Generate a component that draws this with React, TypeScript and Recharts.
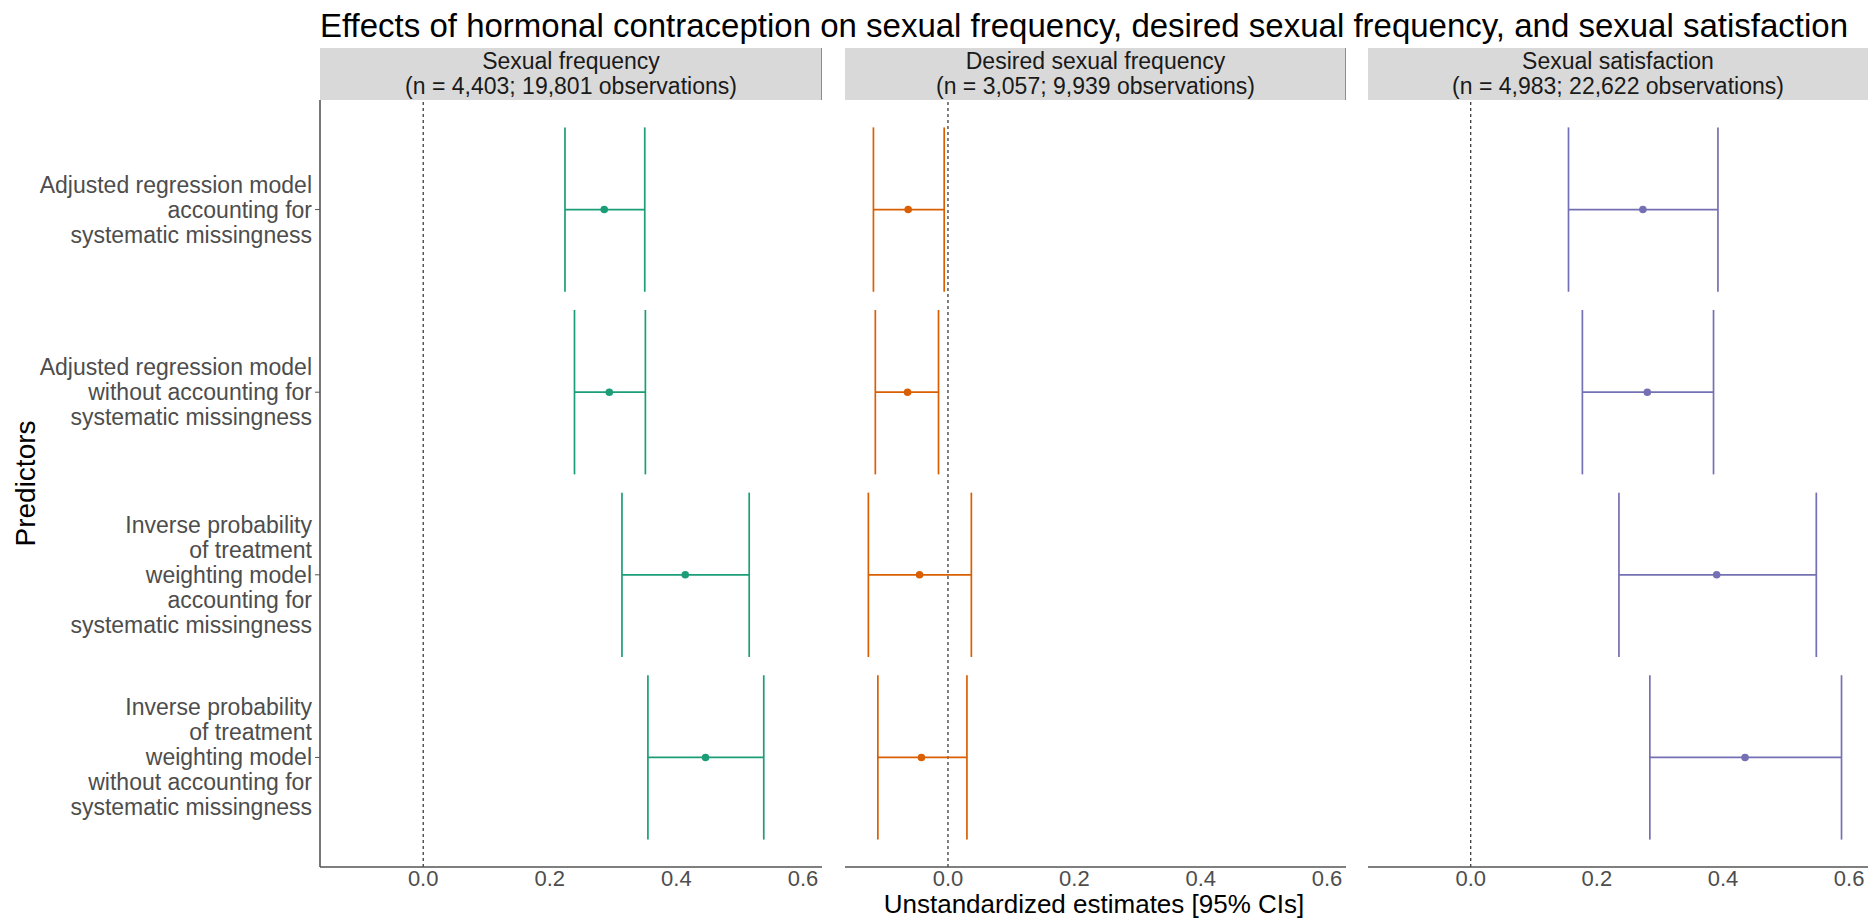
import React from 'react';
import { ScatterChart, Scatter, XAxis, YAxis, ErrorBar, ReferenceLine } from 'recharts';

const FONT = '"Liberation Sans", Arial, Helvetica, sans-serif';

const chartTitle =
  'Effects of hormonal contraception on sexual frequency, desired sexual frequency, and sexual satisfaction';
const xAxisTitle = 'Unstandardized estimates [95% CIs]';
const yAxisTitle = 'Predictors';

const predictorLabels: string[][] = [
  ['Adjusted regression model', 'accounting for', 'systematic missingness'],
  ['Adjusted regression model', 'without accounting for', 'systematic missingness'],
  ['Inverse probability', 'of treatment', 'weighting model', 'accounting for', 'systematic missingness'],
  ['Inverse probability', 'of treatment', 'weighting model', 'without accounting for', 'systematic missingness'],
];
const rowIds = [1, 2, 3, 4];
const xTicks = [0, 0.2, 0.4, 0.6];
const xDomain: [number, number] = [-0.163, 0.63];
const yDomain: [number, number] = [0.4, 4.6];

const panelTitles = ['Sexual frequency', 'Desired sexual frequency', 'Sexual satisfaction'];
const panelSubtitles = [
  '(n = 4,403; 19,801 observations)',
  '(n = 3,057; 9,939 observations)',
  '(n = 4,983; 22,622 observations)',
];
const panelColors = ['#1B9E77', '#D95F02', '#7570B3'];

// Sexual frequency
const freqEst = [0.286, 0.294, 0.414, 0.446];
const freqLow = [0.224, 0.239, 0.314, 0.355];
const freqHigh = [0.350, 0.351, 0.515, 0.538];
// Desired sexual frequency
const desiredEst = [-0.063, -0.064, -0.045, -0.042];
const desiredLow = [-0.118, -0.115, -0.126, -0.111];
const desiredHigh = [-0.006, -0.015, 0.037, 0.030];
// Sexual satisfaction
const satEst = [0.273, 0.280, 0.390, 0.435];
const satLow = [0.155, 0.177, 0.235, 0.284];
const satHigh = [0.392, 0.385, 0.548, 0.588];

const build = (est: number[], low: number[], high: number[]) =>
  rowIds.map((r, i) => ({ row: r, est: est[i], err: [est[i] - low[i], high[i] - est[i]] }));

const panelData = [
  build(freqEst, freqLow, freqHigh),
  build(desiredEst, desiredLow, desiredHigh),
  build(satEst, satLow, satHigh),
];

const W = 1868;
const H = 920;
const PLOT_TOP = 100;
const PLOT_BOTTOM = 867;
const STRIP_TOP = 48;
const panels = [
  { left: 320, width: 502 },
  { left: 845, width: 501 },
  { left: 1368, width: 500 },
];
const Y_AXIS_W = 320;
const ROW_SPACING = (PLOT_BOTTOM - PLOT_TOP) / (yDomain[1] - yDomain[0]);
const CAP_HALF = ROW_SPACING * 0.45;

const YTick = (props: any) => {
  const { x, y, payload } = props;
  const lines = predictorLabels[Math.round(payload.value) - 1] || [];
  const lh = 25;
  const start = -((lines.length - 1) * lh) / 2;
  return (
    <text x={x} y={y} textAnchor="end" fill="#4D4D4D" fontSize={23} fontFamily={FONT}>
      {lines.map((l, i) => (
        <tspan key={i} x={x} y={y + start + i * lh} dy="0.35em">
          {l}
        </tspan>
      ))}
    </text>
  );
};

const Dot = (color: string) => (p: any) => <circle cx={p.cx} cy={p.cy} r={3.8} fill={color} />;

function Panel({ idx }: { idx: number }) {
  const first = idx === 0;
  const p = panels[idx];
  const left = first ? 0 : p.left;
  const width = first ? p.left + p.width : p.width;
  const color = panelColors[idx];
  return (
    <div style={{ position: 'absolute', left, top: 0, width, height: H }}>
      <ScatterChart
        width={width}
        height={H}
        margin={{ top: PLOT_TOP, right: 0, bottom: 0, left: 0 }}
      >
        <XAxis
          type="number"
          dataKey="est"
          domain={xDomain}
          allowDataOverflow
          ticks={xTicks}
          tickFormatter={(v: number) => v.toFixed(1)}
          height={H - PLOT_BOTTOM}
          tickLine={false}
          tickSize={0}
          tickMargin={3}
          axisLine={{ stroke: '#555555', strokeWidth: 1.6 }}
          tick={{ fill: '#4D4D4D', fontSize: 22, fontFamily: FONT }}
          interval={0}
        />
        <YAxis
          type="number"
          dataKey="row"
          domain={yDomain}
          allowDataOverflow
          reversed
          ticks={rowIds}
          interval={0}
          hide={!first}
          width={first ? Y_AXIS_W : 0}
          tick={<YTick />}
          tickSize={5}
          tickMargin={3}
          tickLine={{ stroke: '#555555', strokeWidth: 1 }}
          axisLine={{ stroke: '#555555', strokeWidth: 1.6 }}
        />
        <ReferenceLine x={0} stroke="#000000" strokeWidth={1} strokeDasharray="3 3" />
        <Scatter
          data={panelData[idx]}
          fill={color}
          isAnimationActive={false}
          shape={Dot(color)}
        >
          <ErrorBar
            dataKey="err"
            direction="x"
            width={CAP_HALF}
            stroke={color}
            strokeWidth={1.7}
            isAnimationActive={false}
          />
        </Scatter>
      </ScatterChart>
    </div>
  );
}

export default function App() {
  return (
    <div
      style={{
        position: 'absolute',
        left: 0,
        top: 0,
        width: W,
        height: H,
        background: '#ffffff',
        overflow: 'hidden',
        fontFamily: FONT,
      }}
    >
      <svg
        width={W}
        height={H}
        style={{ position: 'absolute', left: 0, top: 0 }}
      >
        <text x={320} y={37} fontSize={33} fill="#000000" fontFamily={FONT}>
          {chartTitle}
        </text>
        {panels.map((p, i) => (
          <g key={i}>
            <rect x={p.left} y={STRIP_TOP} width={p.width} height={PLOT_TOP - STRIP_TOP} fill="#D9D9D9" />
            {i < 2 && (
              <line
                x1={p.left + p.width - 0.5}
                x2={p.left + p.width - 0.5}
                y1={STRIP_TOP}
                y2={PLOT_TOP}
                stroke="#8C8C8C"
                strokeWidth={1}
              />
            )}
            <text
              x={p.left + p.width / 2}
              y={STRIP_TOP + 13}
              dy="0.35em"
              textAnchor="middle"
              fontSize={23}
              fill="#1A1A1A"
              fontFamily={FONT}
            >
              {panelTitles[i]}
            </text>
            <text
              x={p.left + p.width / 2}
              y={STRIP_TOP + 38}
              dy="0.35em"
              textAnchor="middle"
              fontSize={23}
              fill="#1A1A1A"
              fontFamily={FONT}
            >
              {panelSubtitles[i]}
            </text>
          </g>
        ))}
        <text x={1094} y={913} textAnchor="middle" fontSize={26} fill="#000000" fontFamily={FONT}>
          {xAxisTitle}
        </text>
        <text
          x={0}
          y={0}
          transform={`translate(35, ${(PLOT_TOP + PLOT_BOTTOM) / 2}) rotate(-90)`}
          textAnchor="middle"
          fontSize={28}
          fill="#000000"
          fontFamily={FONT}
        >
          {yAxisTitle}
        </text>
      </svg>
      {panels.map((_, i) => (
        <Panel key={i} idx={i} />
      ))}
    </div>
  );
}
